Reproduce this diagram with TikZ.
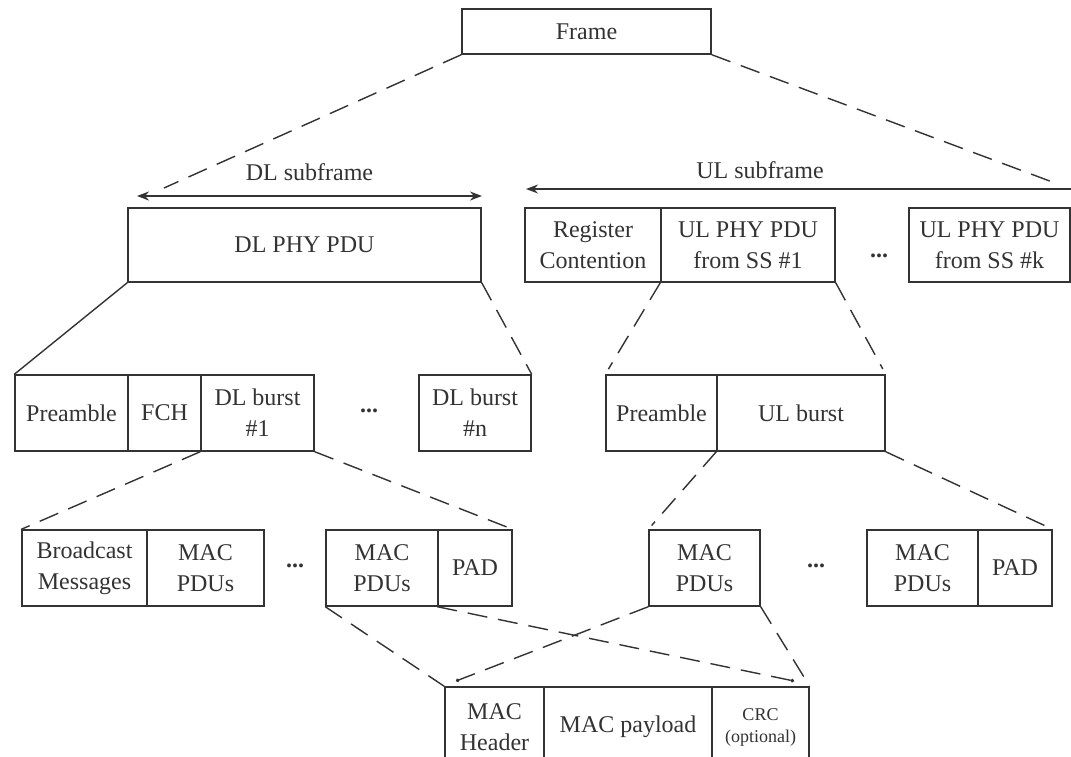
\documentclass[tikz,border=0pt]{standalone}
\usepackage{fontspec}
\setmainfont{Liberation Serif}
\usetikzlibrary{arrows.meta}
\definecolor{ink}{HTML}{333333}
\tikzset{
  cell/.style={draw=ink, line width=1.4pt, inner sep=0pt, align=center, text=ink,
    font=\fontsize{24}{31}\selectfont},
  lvla/.style={cell, minimum height=74pt},
  lvlb/.style={cell, minimum height=76pt},
  lvlc/.style={cell, minimum height=76pt},
  lvld/.style={cell, minimum height=80pt},
  dots/.style={text=ink, font=\fontsize{24}{24}\selectfont\bfseries},
  lbl/.style={text=ink, font=\fontsize{24}{24}\selectfont},
  dashline/.style={draw=ink, line width=1.4pt, dash pattern=on 20pt off 11pt},
  solidline/.style={draw=ink, line width=1.4pt},
  spanline/.style={draw=ink, line width=1.6pt, >={Stealth[length=12pt,width=9pt]}}
}
\begin{document}
\begin{tikzpicture}[x=1pt,y=-1pt]
\useasboundingbox (0,0) rectangle (1071,756);
\fill[white] (0,0) rectangle (1071,756);

% level 0
\node[cell, minimum width=249pt, minimum height=45pt] (frame) at (586.5,31.5) {Frame};

% span arrows
\coordinate (dlL) at (137,196);
\coordinate (dlR) at (482,196);
\coordinate (ulL) at (526,189);
\coordinate (ulR) at (1071,189);
\draw[spanline, <->] (dlL) -- (dlR);
\draw[spanline, <-] (ulL) -- (ulR);
\node[lbl] (dllbl) at (309.5,172) {DL subframe};
\node[lbl] (ullbl) at (760,170) {UL subframe};

\coordinate (fl) at (164,188);
\coordinate (fr) at (1055,183);
\draw[dashline] (frame.south west) -- (fl);
\draw[dashline] (frame.south east) -- (fr);

% level 1
\node[lvla, minimum width=353pt] (dlphy) at (304.5,245) {DL PHY PDU};
\node[lvla, minimum width=136pt] (reg) at (593,245) {Register\\Contention};
\node[lvla, minimum width=174pt] (ul1) at (748,245) {UL PHY PDU\\from SS \#1};
\node[dots] (d1) at (879,256) {...};
\node[lvla, minimum width=161pt] (ulk) at (989.5,245) {UL PHY PDU\\from SS \#k};

% level 2
\node[lvlb, minimum width=113pt] (pre1) at (71.5,413) {Preamble};
\node[lvlb, minimum width=73pt] (fch) at (164.5,413) {FCH};
\node[lvlb, minimum width=113pt] (dlb1) at (257.5,413) {DL burst\\\#1};
\node[dots] (d2) at (369,411) {...};
\node[lvlb, minimum width=112pt] (dlbn) at (475,413) {DL burst\\\#n};
\node[lvlb, minimum width=111pt] (pre2) at (661.5,413) {Preamble};
\node[lvlb, minimum width=168pt] (ulb) at (801,413) {UL burst};

\draw[solidline] (dlphy.south west) -- (pre1.north west);
\draw[dashline] (dlphy.south east) -- (dlbn.north east);
\draw[dashline, shorten >=6pt] (ul1.south west) -- (pre2.north west);
\draw[dashline, shorten >=6pt] (ul1.south east) -- (ulb.north east);

% level 3
\node[lvlc, minimum width=125pt] (bcast) at (84.5,568) {Broadcast\\Messages};
\node[lvlc, minimum width=117pt] (macp1) at (205.5,568) {MAC\\PDUs};
\node[dots] (d3) at (295,566) {...};
\node[lvlc, minimum width=112pt] (macp2) at (382,568) {MAC\\PDUs};
\node[lvlc, minimum width=74pt] (pad1) at (475,568) {PAD};
\node[lvlc, minimum width=111pt] (macp3) at (704.5,568) {MAC\\PDUs};
\node[dots] (d4) at (816,566) {...};
\node[lvlc, minimum width=111pt] (macp4) at (922.5,568) {MAC\\PDUs};
\node[lvlc, minimum width=74pt] (pad2) at (1015,568) {PAD};

\draw[dashline] (dlb1.south west) -- (bcast.north west);
\draw[dashline] (dlb1.south east) -- (pad1.north east);
\draw[dashline, shorten >=5pt] (ulb.south west) -- (macp3.north west);
\draw[dashline, shorten >=3pt] (ulb.south east) -- (pad2.north east);

% level 4
\node[lvld, minimum width=99pt] (machdr) at (494.5,727) {MAC\\Header};
\node[lvld, minimum width=168pt] (payload) at (628,727) {MAC payload};
\node[lvld, minimum width=97pt, font=\fontsize{18}{22}\selectfont] (crc) at (760.5,727) {CRC\\(optional)};

\coordinate (crcend) at (794,681);
\coordinate (hdrend) at (456,681);
\draw[dashline] (macp2.south west) -- (machdr.north west);
\draw[dashline, -{Circle[length=3.5pt]}] (pad1.south west) -- (crcend);
\draw[dashline, -{Circle[length=3.5pt]}] (macp3.south west) -- (hdrend);
\draw[dashline] (macp3.south east) -- (crc.north east);
\end{tikzpicture}
\end{document}
